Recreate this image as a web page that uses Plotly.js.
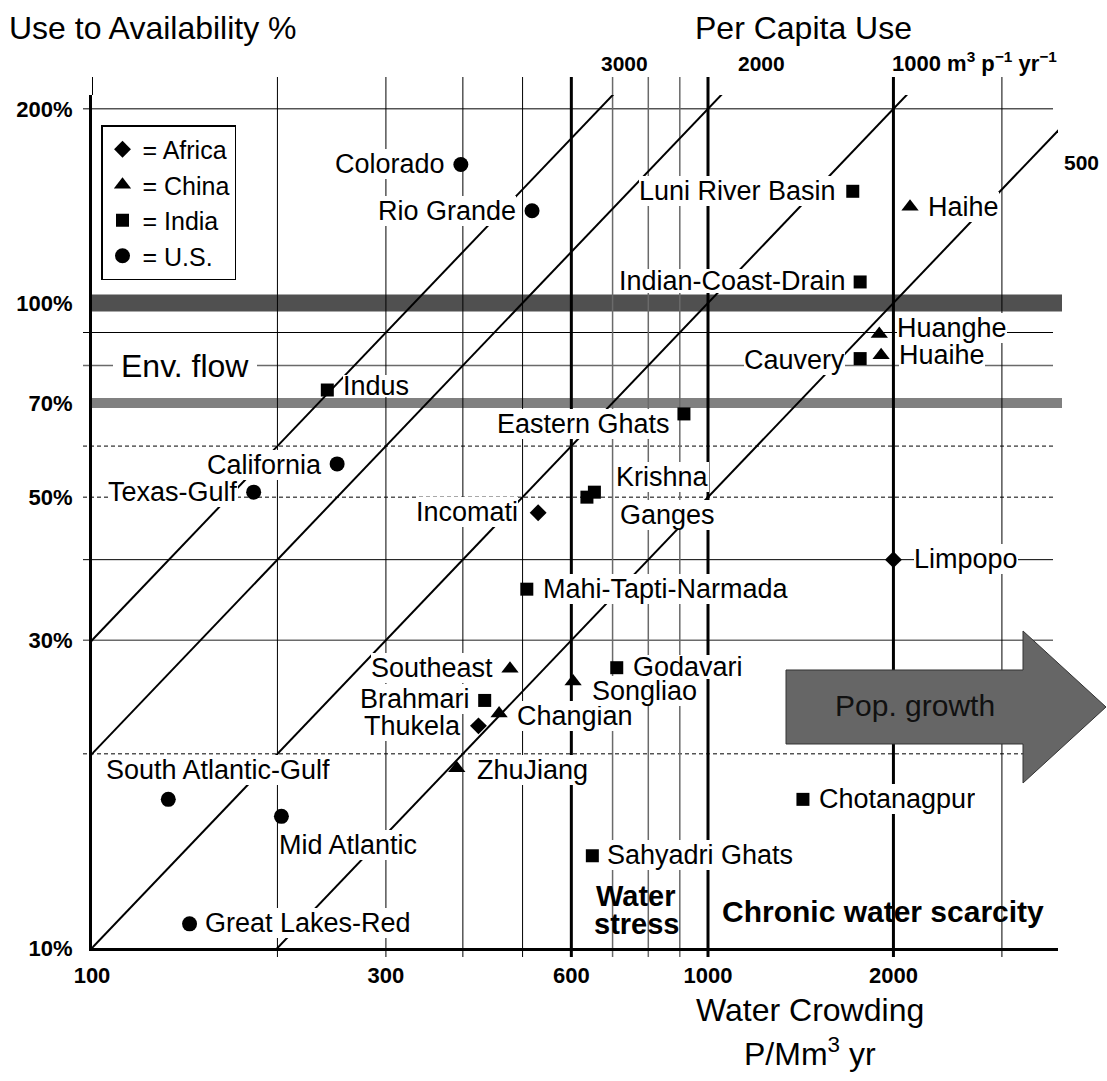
<!DOCTYPE html>
<html><head><meta charset="utf-8">
<script src="https://cdn.plot.ly/plotly-3.0.1.min.js"></script>
<style>html,body{margin:0;padding:0;background:#fff}#chart{width:1107px;height:1081px}</style>
</head><body><div id="chart"></div>
<script>
// ---------------- DATA ----------------
const africaNames = ['Incomati', 'Limpopo', 'Thukela'];
const africaCrowding = [530, 2000, 424];
const africaRatio = [47.3, 40.0, 22.1];

const chinaNames = ['Haihe', 'Huanghe', 'Huaihe', 'Southeast', 'Songliao', 'Changian', 'ZhuJiang'];
const chinaCrowding = [2128, 1897, 1910, 477, 604, 458, 391];
const chinaRatio = [141, 89.5, 83.0, 27.1, 25.9, 23.1, 19.0];

const indiaNames = ['Luni River Basin', 'Indian-Coast-Drain', 'Cauvery', 'Indus', 'Eastern Ghats', 'Krishna', 'Ganges',
  'Mahi-Tapti-Narmada', 'Godavari', 'Brahmari', 'Chotanagpur', 'Sahyadri Ghats'];
const indiaCrowding = [1718, 1766, 1766, 241, 914, 654, 636, 508, 711, 434, 1426, 649];
const indiaRatio = [149, 107.8, 82, 73.3, 67.3, 50.9, 50.0, 36.0, 27.2, 24.2, 17.0, 13.9];

const usNames = ['Colorado', 'Rio Grande', 'California', 'Texas-Gulf', 'South Atlantic-Gulf', 'Mid Atlantic', 'Great Lakes-Red'];
const usCrowding = [397, 518, 250, 183, 133, 203, 144];
const usRatio = [164, 139, 56.3, 50.9, 17.0, 16.0, 10.9];

const perCapitaUse = [3000, 2000, 1000, 500];           // m3 per person per year (diagonals)
const xTickVals = [100, 300, 600, 1000, 2000];
const yTickVals = [10, 30, 50, 70, 100, 200];
const xGridVals = [200, 300, 400, 500, 600, 700, 800, 900, 1000, 2000, 3000];
const yGridVals = [200, 90, 80, 60, 50, 40, 30, 20];
const waterStressLimits = [600, 1000, 2000];
const bandVals = [100, 70];

// ---------------- STYLE / LAYOUT HELPERS ----------------
const FONT = 'Liberation Sans, Arial, Helvetica, sans-serif';
const W = 1107, H = 1081;
const PL = 92, PR = 1058, PT = 95, PB = 948;
const px2x = p => (p - PL) / (PR - PL);
const py2y = p => (PB - p) / (PB - PT);

// label placement: [side, dx(px from marker centre to text edge), dy(px, + = up), box height]
const labelPlace = {
  'Colorado': ['l', 16, 0, 30], 'Rio Grande': ['l', 16, 0, 30], 'Luni River Basin': ['l', 17, 0, 30],
  'Haihe': ['r', 18, 0, 30], 'Indian-Coast-Drain': ['l', 14, 1, 24], 'Huanghe': ['r', 18, 6, 30],
  'Huaihe': ['r', 18, 0, 30], 'Cauvery': ['l', 15, -1, 30], 'Indus': ['r', 16, 4, 22],
  'Eastern Ghats': ['l', 14, -10, 30], 'California': ['l', 15, -1, 30], 'Texas-Gulf': ['l', 16, 0, 30],
  'Krishna': ['r', 22, 15, 30], 'Ganges': ['r', 33, -18, 30], 'Incomati': ['l', 20, 1, 30],
  'Limpopo': ['r', 21, 1, 30], 'Mahi-Tapti-Narmada': ['r', 16, 0, 30], 'Southeast': ['l', 17, 1, 30],
  'Godavari': ['r', 16, 1, 24], 'Songliao': ['r', 19, -10, 30], 'Brahmari': ['l', 15, 1, 30],
  'Changian': ['r', 18, -3, 30], 'Thukela': ['l', 17, 0, 30], 'ZhuJiang': ['r', 20, -2, 30],
  'South Atlantic-Gulf': ['r', -62, 29, 30], 'Mid Atlantic': ['r', -2, -29, 30],
  'Chotanagpur': ['r', 16, 0, 30], 'Sahyadri Ghats': ['r', 15, 1, 30], 'Great Lakes-Red': ['r', 15, 1, 30]
};

// ---------------- TRACES ----------------
const traces = [];
perCapitaUse.forEach(u => {
  const xs = [10, 100000];
  traces.push({
    x: xs, y: xs.map(v => u * v / 1e4), mode: 'lines', type: 'scatter',
    line: {color: 'black', width: 2}, showlegend: false, hoverinfo: 'skip'
  });
});
const groups = [
  {name: '= Africa', sym: 'diamond', size: 13, n: africaNames, x: africaCrowding, y: africaRatio},
  {name: '= China', sym: 'triangle-up', size: 15, n: chinaNames, x: chinaCrowding, y: chinaRatio},
  {name: '= India', sym: 'square', size: 13, n: indiaNames, x: indiaCrowding, y: indiaRatio},
  {name: '= U.S.', sym: 'circle', size: 15, n: usNames, x: usCrowding, y: usRatio}
];
groups.forEach(g => {
  traces.push({
    x: g.x, y: g.y, text: g.n, name: g.name, mode: 'markers', type: 'scatter',
    marker: {symbol: g.sym, size: g.size, color: 'black'}, hoverinfo: 'text'
  });
});

// ---------------- SHAPES ----------------
const shapes = [];
bandVals.forEach((v, i) => {
  shapes.push({type: 'line', layer: 'below', xref: 'paper', yref: 'y', x0: 0, x1: px2x(1062), y0: v, y1: v,
    line: {color: i === 0 ? '#505050' : '#808080', width: i === 0 ? 17 : 10}});
});
yGridVals.forEach(v => {
  const dotted = (v === 60 || v === 50 || v === 20);
  const gray = (v === 80 || v === 30);
  shapes.push({type: 'line', layer: 'below', xref: 'paper', yref: 'y', x0: px2x(83), x1: px2x(1053), y0: v, y1: v,
    line: {color: gray ? '#6a6a6a' : 'black', width: gray ? 1.6 : 1, dash: dotted ? '4px,3px' : 'solid'}});
});
xGridVals.forEach(v => {
  const thick = waterStressLimits.includes(v);
  const gray = (v === 700 || v === 800 || v === 900);
  shapes.push({type: 'line', layer: 'below', xref: 'x', yref: 'paper', x0: v, x1: v, y0: py2y(957), y1: py2y(77),
    line: {color: gray ? '#6a6a6a' : 'black', width: thick ? 3 : (gray ? 1.5 : 1)}});
});
// top extension of the left axis
shapes.push({type: 'line', layer: 'below', xref: 'paper', yref: 'paper', x0: px2x(92.5), x1: px2x(92.5), y0: 1, y1: py2y(77),
  line: {color: 'black', width: 1}});
// population growth arrow
const arrowPts = [[786, 670], [1023, 670], [1023, 631], [1106, 707], [1023, 783], [1023, 744], [786, 744]];
shapes.push({type: 'path', layer: 'above', xref: 'paper', yref: 'paper',
  path: 'M' + arrowPts.map(p => px2x(p[0]).toFixed(5) + ',' + py2y(p[1]).toFixed(5)).join('L') + 'Z',
  fillcolor: '#666666', line: {color: '#333333', width: 1}});

// ---------------- ANNOTATIONS ----------------
const ann = [];
const pointLabels = [];
groups.forEach(g => {
  g.n.forEach((nm, i) => {
    const p = labelPlace[nm];
    const side = p[0];
    pointLabels.push({
      xref: 'x', yref: 'y', x: Math.log10(g.x[i]), y: Math.log10(g.y[i]),
      text: nm, showarrow: false, height: p[3],
      xanchor: side === 'l' ? 'right' : 'left', yanchor: 'middle',
      xshift: side === 'l' ? -p[1] : p[1], yshift: p[2],
      bgcolor: 'white', borderpad: 0, borderwidth: 0,
      font: {family: FONT, size: 27, color: 'black'}
    });
  });
});
// draw lower labels first so that upper boxes only cover blank space above lower texts
pointLabels.sort((a, b) => a.y - b.y);
pointLabels.forEach(a => ann.push(a));

function txt(text, x, y, size, opts) {
  return Object.assign({xref: 'paper', yref: 'paper', x: px2x(x), y: py2y(y), text: text, showarrow: false,
    xanchor: 'center', yanchor: 'middle', font: {family: FONT, size: size, color: 'black'}}, opts || {});
}
ann.push(txt('Use to Availability %', 7, 28, 32, {xanchor: 'left'}));
ann.push(txt('Per Capita Use', 803, 28, 32));
ann.push(txt('<b>' + perCapitaUse[0] + '</b>', 624, 63, 21));
ann.push(txt('<b>' + perCapitaUse[1] + '</b>', 761, 63, 21));
ann.push(txt('<b>' + perCapitaUse[2] + ' m<sup>3</sup> p<sup>\u22121</sup> yr<sup>\u22121</sup></b>', 890, 62, 22, {xanchor: 'left'}));
ann.push(txt('<b>' + perCapitaUse[3] + '</b>', 1062, 163, 21, {xanchor: 'left'}));
ann.push(txt('Water Crowding', 810, 1010, 32));
ann.push(txt('P/Mm<sup>3</sup> yr', 810, 1052, 32));
ann.push(txt('<b>Water</b>', 636, 896, 29));
ann.push(txt('<b>stress</b>', 636, 924, 29));
ann.push(txt('<b>Chronic water scarcity</b>', 720, 911, 30, {xanchor: 'left'}));
ann.push(txt('Pop. growth', 915, 705, 30, {font: {family: FONT, size: 30, color: '#111'}}));
ann.push({xref: 'paper', yref: 'y', x: px2x(185), y: Math.log10(80), text: 'Env. flow', showarrow: false,
  xanchor: 'center', yanchor: 'middle', bgcolor: 'white', borderpad: 8, borderwidth: 0,
  font: {family: FONT, size: 32, color: 'black'}});

// ---------------- LAYOUT ----------------
const layout = {
  width: W, height: H,
  margin: {l: PL, r: W - PR, t: PT, b: H - PB, pad: 0},
  paper_bgcolor: 'white', plot_bgcolor: 'white',
  font: {family: FONT, color: 'black'},
  xaxis: {
    type: 'log', range: [2, 2 + (PR - PL) / 616], tickvals: xTickVals,
    ticktext: xTickVals.map(v => '<b>' + v + '</b>'), tickfont: {family: FONT, size: 22, color: 'black'},
    ticks: 'outside', ticklen: 6, tickcolor: 'rgba(0,0,0,0)',
    showgrid: false, zeroline: false,
    showline: true, linewidth: 3, linecolor: 'black', fixedrange: true
  },
  yaxis: {
    type: 'log', range: [1, 1 + (PB - PT) / 645], tickvals: yTickVals,
    ticktext: yTickVals.map(v => '<b>' + v + '%</b>'), tickfont: {family: FONT, size: 22, color: 'black'},
    ticks: 'outside', ticklen: 12, tickcolor: 'rgba(0,0,0,0)', showgrid: false, zeroline: false,
    showline: true, linewidth: 3, linecolor: 'black', fixedrange: true
  },
  showlegend: true,
  legend: {
    x: px2x(101), y: py2y(125), xanchor: 'left', yanchor: 'top',
    bgcolor: 'white', bordercolor: 'black', borderwidth: 1.5,
    font: {family: FONT, size: 25, color: 'black'}, traceorder: 'normal'
  },
  shapes: shapes,
  annotations: ann
};

Plotly.newPlot('chart', traces, layout, {displayModeBar: false, staticPlot: true});
</script>
</body></html>
